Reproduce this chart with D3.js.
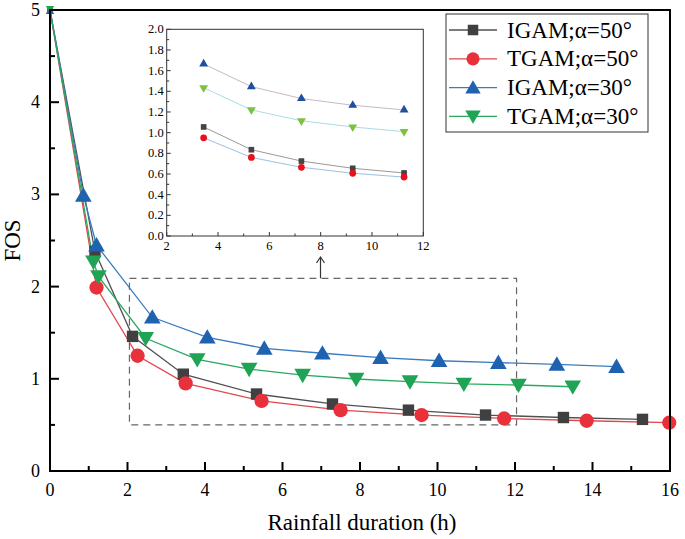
<!DOCTYPE html>
<html><head><meta charset="utf-8">
<script src="https://cdn.jsdelivr.net/npm/d3@7"></script>
<style>body{margin:0;background:#fff}svg{display:block}</style>
</head><body><svg id="c" width="685" height="539"></svg>
<script>
// ---- data ----
const seriesNames = ["IGAM;α=50°","TGAM;α=50°","IGAM;α=30°","TGAM;α=30°"];
const igam50X = [0,1.16,2.13,3.44,5.33,7.29,9.25,11.24,13.25,15.29];
const igam50Y = [5,2.38,1.46,1.05,0.835,0.727,0.66,0.607,0.58,0.56];
const tgam50X = [0,1.2,2.26,3.5,5.46,7.5,9.59,11.72,13.85,15.98];
const tgam50Y = [5,1.99,1.25,0.95,0.76,0.66,0.607,0.57,0.545,0.524];
const igam30X = [0,0.86,1.2,2.64,4.06,5.53,7.03,8.53,10.04,11.57,13.08,14.62];
const igam30Y = [5,2.99,2.45,1.667,1.45,1.33,1.277,1.23,1.196,1.175,1.157,1.131];
const tgam30X = [0,1.12,1.25,2.47,3.8,5.14,6.52,7.9,9.29,10.68,12.09,13.49];
const tgam30Y = [5,2.27,2.11,1.44,1.21,1.106,1.04,0.998,0.969,0.944,0.933,0.914];
const insetX = [3.44,5.3,7.25,9.25,11.25];
const insetIgam50 = [1.055,0.835,0.725,0.655,0.61];
const insetTgam50 = [0.95,0.76,0.665,0.607,0.57];
const insetIgam30 = [1.665,1.445,1.33,1.265,1.22];
const insetTgam30 = [1.435,1.22,1.115,1.055,1.01];
const xTicks = [0,2,4,6,8,10,12,14,16];
const yTicks = [0,1,2,3,4,5];
const insetXTicks = [2,4,6,8,10,12];
const insetYTicks = [0,0.2,0.4,0.6,0.8,1.0,1.2,1.4,1.6,1.8,2.0];
const zoomBox = {x0:2.05, x1:12.04, y0:0.5, y1:2.09};

const svg = d3.select("#c");
const font = "'Liberation Serif','Times New Roman',serif";
const L=50,R=670,T=10,B=471;
const x = d3.scaleLinear().domain([0,16]).range([L,R]);
const y = d3.scaleLinear().domain([0,5]).range([B,T]);

const styles = [
 {line:"#505050", fill:"#404040", sym:d3.symbolSquare, size:130, rot:0},
 {line:"#e0474c", fill:"#e8313a", sym:d3.symbolCircle, size:160, rot:0},
 {line:"#3a7cc0", fill:"#1f63b0", sym:d3.symbolTriangle, size:120, rot:0},
 {line:"#2aa860", fill:"#1fa355", sym:d3.symbolTriangle, size:120, rot:180}
];
const mainData = [[igam50X,igam50Y],[tgam50X,tgam50Y],[igam30X,igam30Y],[tgam30X,tgam30Y]];

// dashed zoom box
svg.append("rect").attr("x",x(zoomBox.x0)).attr("y",y(zoomBox.y1))
 .attr("width",x(zoomBox.x1)-x(zoomBox.x0)).attr("height",y(zoomBox.y0)-y(zoomBox.y1))
 .attr("fill","none").attr("stroke","#666").attr("stroke-width",1.2).attr("stroke-dasharray","7,5");

// lines and markers
const line = d3.line().x(d=>x(d[0])).y(d=>y(d[1]));
mainData.forEach((s,i)=>{
  const pts = s[0].map((v,j)=>[v,s[1][j]]);
  svg.append("path").attr("d",line(pts)).attr("fill","none").attr("stroke",styles[i].line).attr("stroke-width",1.3);
});
mainData.forEach((s,i)=>{
  const st = styles[i];
  s[0].forEach((v,j)=>{
    const yo = st.sym===d3.symbolTriangle ? (st.rot?-1:1)*1.5 : 0;
    svg.append("path").attr("d",d3.symbol().type(st.sym).size(j===0?30:st.size)())
      .attr("transform",`translate(${x(v)},${y(s[1][j])+yo}) rotate(${st.rot})`)
      .attr("fill",st.fill);
  });
});

// axes frame
svg.append("rect").attr("x",L).attr("y",T).attr("width",R-L).attr("height",B-T)
 .attr("fill","none").attr("stroke","#000").attr("stroke-width",2);
const xMinor = d3.range(1,16,2), yMinor = d3.range(0.5,5,1);
xTicks.forEach(t=>svg.append("line").attr("x1",x(t)).attr("x2",x(t)).attr("y1",B).attr("y2",B-9).attr("stroke","#000").attr("stroke-width",2));
xMinor.forEach(t=>svg.append("line").attr("x1",x(t)).attr("x2",x(t)).attr("y1",B).attr("y2",B-5).attr("stroke","#000").attr("stroke-width",2));
yTicks.forEach(t=>svg.append("line").attr("x1",L).attr("x2",L+9).attr("y1",y(t)).attr("y2",y(t)).attr("stroke","#000").attr("stroke-width",2));
yMinor.forEach(t=>svg.append("line").attr("x1",L).attr("x2",L+5).attr("y1",y(t)).attr("y2",y(t)).attr("stroke","#000").attr("stroke-width",2));
xTicks.forEach(t=>svg.append("text").attr("x",x(t)).attr("y",B+25).attr("text-anchor","middle")
  .attr("font-family",font).attr("font-size",18).text(t));
yTicks.forEach(t=>svg.append("text").attr("x",L-10).attr("y",y(t)+6).attr("text-anchor","end")
  .attr("font-family",font).attr("font-size",18).text(t));
svg.append("text").attr("x",362).attr("y",530).attr("text-anchor","middle")
 .attr("font-family",font).attr("font-size",23).text("Rainfall duration (h)");
svg.append("text").attr("transform",`translate(20,${(T+B)/2}) rotate(-90)`).attr("text-anchor","middle")
 .attr("font-family",font).attr("font-size",23).text("FOS");

// arrow
const arrowX = 320.5;
svg.append("line").attr("x1",arrowX).attr("x2",arrowX).attr("y1",y(zoomBox.y1)).attr("y2",258).attr("stroke","#333").attr("stroke-width",1.2);
svg.append("path").attr("d",`M${arrowX-4},${263} L${arrowX},${257} L${arrowX+4},${263}`).attr("fill","none").attr("stroke","#333").attr("stroke-width",1.2);

// inset
const iL=166.7,iR=423.3,iT=29.3,iB=236;
const ix = d3.scaleLinear().domain([2,12]).range([iL,iR]);
const iy = d3.scaleLinear().domain([0,2]).range([iB,iT]);
svg.append("rect").attr("x",iL).attr("y",iT).attr("width",iR-iL).attr("height",iB-iT)
 .attr("fill","none").attr("stroke","#333").attr("stroke-width",1);
insetXTicks.forEach(t=>{
  svg.append("line").attr("x1",ix(t)).attr("x2",ix(t)).attr("y1",iB).attr("y2",iB-4).attr("stroke","#333");
  svg.append("text").attr("x",ix(t)).attr("y",iB+14).attr("text-anchor","middle").attr("font-family",font).attr("font-size",12.5).text(t);
});
d3.range(3,12,2).forEach(t=>svg.append("line").attr("x1",ix(t)).attr("x2",ix(t)).attr("y1",iB).attr("y2",iB-2.5).attr("stroke","#333"));
insetYTicks.forEach(t=>{
  svg.append("line").attr("x1",iL).attr("x2",iL+4).attr("y1",iy(t)).attr("y2",iy(t)).attr("stroke","#333");
  svg.append("text").attr("x",iL-3).attr("y",iy(t)+4).attr("text-anchor","end").attr("font-family",font).attr("font-size",12.5).text(d3.format(".1f")(t));
});
d3.range(0.1,2,0.2).forEach(t=>svg.append("line").attr("x1",iL).attr("x2",iL+2.5).attr("y1",iy(t)).attr("y2",iy(t)).attr("stroke","#333"));
const insetStyles = [
 {line:"#9a9a9a", fill:"#444", sym:d3.symbolSquare, size:32, rot:0, data:insetIgam50},
 {line:"#9cc0df", fill:"#e8101c", sym:d3.symbolCircle, size:36, rot:0, data:insetTgam50},
 {line:"#c8b8c8", fill:"#1f4f9f", sym:d3.symbolTriangle, size:34, rot:0, data:insetIgam30},
 {line:"#a8dce6", fill:"#7cc241", sym:d3.symbolTriangle, size:34, rot:180, data:insetTgam30}
];
const iline = d3.line().x(d=>ix(d[0])).y(d=>iy(d[1]));
insetStyles.forEach(st=>{
  svg.append("path").attr("d",iline(insetX.map((v,j)=>[v,st.data[j]]))).attr("fill","none").attr("stroke",st.line).attr("stroke-width",1);
});
insetStyles.forEach(st=>{
  insetX.forEach((v,j)=>svg.append("path").attr("d",d3.symbol().type(st.sym).size(st.size)())
    .attr("transform",`translate(${ix(v)},${iy(st.data[j])}) rotate(${st.rot})`).attr("fill",st.fill));
});

// legend
const lg = svg.append("g");
lg.append("rect").attr("x",446).attr("y",14).attr("width",202).attr("height",118)
 .attr("fill","#fff").attr("stroke","#333").attr("stroke-width",1);
seriesNames.forEach((n,i)=>{
  const yy = 30 + i*28.8, st = styles[i];
  lg.append("line").attr("x1",449).attr("x2",497).attr("y1",yy).attr("y2",yy).attr("stroke",st.line).attr("stroke-width",1.3);
  lg.append("path").attr("d",d3.symbol().type(st.sym).size(st.size*0.85)())
    .attr("transform",`translate(473,${yy+(st.sym===d3.symbolTriangle?(st.rot?-1:1)*1.5:0)}) rotate(${st.rot})`).attr("fill",st.fill);
  lg.append("text").attr("x",507).attr("y",yy+7.5).attr("font-family",font).attr("font-size",23).text(n);
});
</script></body></html>
